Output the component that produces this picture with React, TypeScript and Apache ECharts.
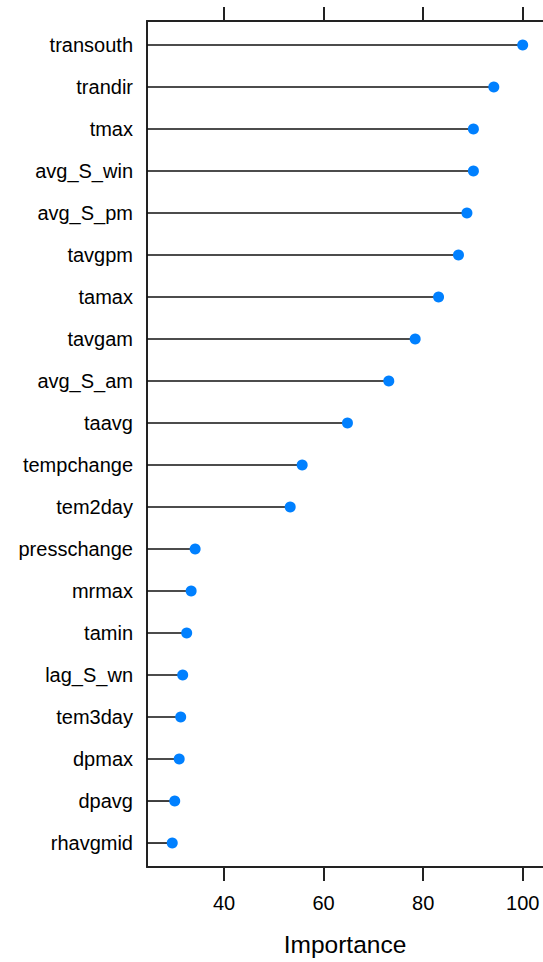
import React, { useEffect, useRef } from "react";
import * as echarts from "echarts";

const variables = [
  "transouth", "trandir", "tmax", "avg_S_win", "avg_S_pm", "tavgpm", "tamax",
  "tavgam", "avg_S_am", "taavg", "tempchange", "tem2day", "presschange",
  "mrmax", "tamin", "lag_S_wn", "tem3day", "dpmax", "dpavg", "rhavgmid",
];
const importance = [
  100, 94.2, 90.1, 90.1, 88.8, 87.1, 83.1, 78.4, 73.1, 64.8, 55.7, 53.3,
  34.2, 33.4, 32.5, 31.7, 31.3, 31.0, 30.1, 29.6,
];
const xTicks = [40, 60, 80, 100];
const rowIndex = variables.map((_, i) => i + 1);

const X_MIN = 24.53;
const X_MAX = 104.08;
const FONT = "'Liberation Sans', Arial, sans-serif";
const AXIS_COLOR = "#222";

export default function App() {
  const ref = useRef<HTMLDivElement>(null);
  useEffect(() => {
    if (!ref.current) return;
    document.body.style.margin = "0";
    const chart = echarts.init(ref.current, undefined, {
      renderer: "svg",
      width: 543,
      height: 962,
    });
    const points = variables.map((_, i) => [importance[i], rowIndex[i]]);
    chart.setOption({
      animation: false,
      backgroundColor: "#fff",
      grid: { left: 147, right: 0, top: 21, bottom: 95, containLabel: false },
      xAxis: [
        {
          type: "value",
          position: "bottom",
          min: X_MIN,
          max: X_MAX,
          axisLine: { show: true, lineStyle: { color: AXIS_COLOR, width: 2 } },
          axisTick: {
            show: true,
            customValues: xTicks,
            length: 14,
            lineStyle: { color: AXIS_COLOR, width: 2 },
          },
          axisLabel: {
            customValues: xTicks,
            margin: 26,
            fontSize: 20,
            color: "#000",
            fontFamily: FONT,
          },
          splitLine: { show: false },
          name: "Importance",
          nameLocation: "middle",
          nameGap: 65,
          nameTextStyle: { fontSize: 24.5, color: "#000", fontFamily: FONT },
        },
        {
          type: "value",
          position: "top",
          min: X_MIN,
          max: X_MAX,
          axisLine: { show: true, lineStyle: { color: AXIS_COLOR, width: 2 } },
          axisTick: {
            show: true,
            customValues: xTicks,
            length: 14,
            lineStyle: { color: AXIS_COLOR, width: 2 },
          },
          axisLabel: { show: false },
          splitLine: { show: false },
        },
      ],
      yAxis: {
        type: "value",
        inverse: true,
        min: 0.429,
        max: 20.571,
        axisLine: { show: true, lineStyle: { color: AXIS_COLOR, width: 2 } },
        axisTick: { show: false },
        splitLine: { show: false },
        axisLabel: {
          customValues: rowIndex,
          formatter: (v: number) => variables[Math.round(v) - 1] ?? "",
          margin: 14,
          fontSize: 20,
          color: "#000",
          fontFamily: FONT,
          padding: [6, 0, 0, 0],
        },
      },
      series: [
        {
          type: "custom",
          xAxisIndex: 0,
          data: points,
          encode: { x: 0, y: 1 },
          renderItem: (params: any, api: any) => {
            const y = api.value(1);
            const p0 = api.coord([X_MIN, y]);
            const p1 = api.coord([api.value(0), y]);
            return {
              type: "line",
              shape: { x1: p0[0], y1: p0[1], x2: p1[0], y2: p1[1] },
              style: { stroke: "#111", lineWidth: 1.6 },
            };
          },
          z: 2,
        },
        {
          type: "scatter",
          xAxisIndex: 0,
          data: points,
          symbol: "circle",
          symbolSize: 11,
          itemStyle: { color: "#0080ff", opacity: 1 },
          z: 3,
        },
      ],
    });
    return () => chart.dispose();
  }, []);
  return (
    <div
      ref={ref}
      style={{ position: "absolute", left: 0, top: 0, width: 543, height: 962 }}
    />
  );
}
